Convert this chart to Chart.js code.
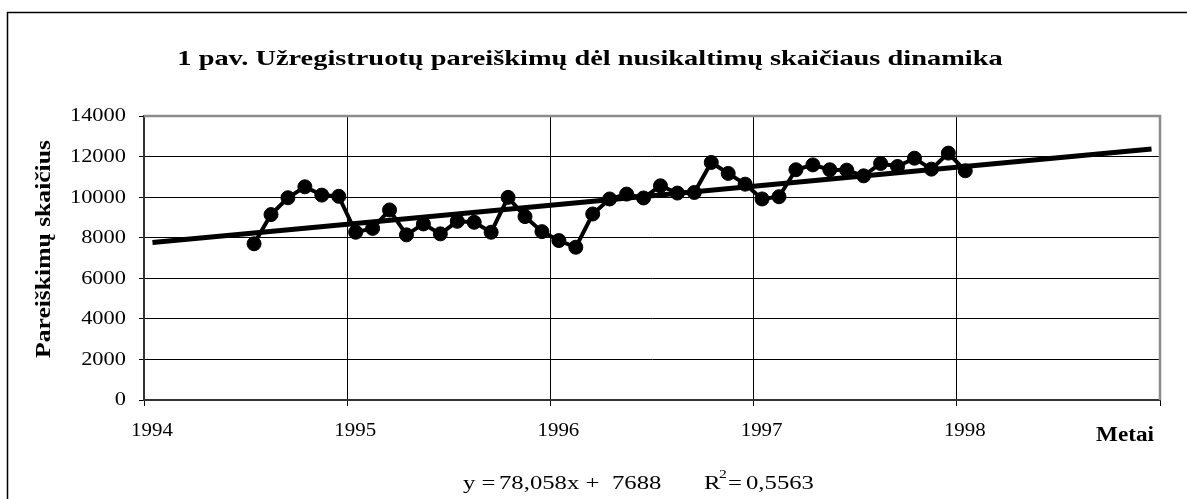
<!DOCTYPE html>
<html>
<head>
<meta charset="utf-8">
<script src="https://cdn.jsdelivr.net/npm/chart.js@4/dist/chart.umd.min.js"></script>
<style>
    html, body { margin: 0; padding: 0; background: #fff; }
    canvas { display: block; }
</style>
</head>
<body>
<canvas id="chart" width="1187" height="499"></canvas>
<script>
// Duomenys: mėnesiniai pareiškimai nuo 1994 m. liepos iki 1998 m. sausio
const firstMonth = 7; // 1994 m. liepa (1 = 1994 m. sausis)
const reports = [
    7700, 9140, 9970, 10510, 10100, 10040,
    8270, 8460, 9370, 8140, 8680, 8190, 8810, 8760, 8270, 9990, 9040, 8300,
    7860, 7530, 9170, 9910, 10150, 9960, 10560, 10200, 10230, 11710, 11170, 10640,
    9910, 10020, 11350, 11590, 11350, 11330, 11050, 11660, 11510, 11920, 11380, 12170,
    11300
];
const yearLabels = ['1994', '1995', '1996', '1997', '1998'];
const yearTicks = [0.5, 12.5, 24.5, 36.5, 48.5, 60.5];
const yTicks = [0, 2000, 4000, 6000, 8000, 10000, 12000, 14000];

// Tiesinis trendas (iš diagramos lygties)
const trendSlope = 78.058;
const trendIntercept = 7688;
const trendRange = [1, 60];

const seriesPoints = reports.map((v, i) => ({ x: firstMonth + i, y: v }));
const trendPoints = trendRange.map(x => ({ x: x, y: trendIntercept + trendSlope * x }));

const SERIF = '"Liberation Serif", "Times New Roman", serif';

// Tekstas šiek tiek ištemptas horizontaliai, kaip originale
function stretchedText(ctx, text, x, y, font, sx, align) {
    ctx.save();
    ctx.font = font;
    ctx.fillStyle = '#000';
    ctx.textBaseline = 'middle';
    const w = ctx.measureText(text).width * sx;
    let left = x;
    if (align === 'center') left = x - w / 2;
    if (align === 'right') left = x - w;
    ctx.translate(left, y);
    ctx.scale(sx, 1);
    ctx.textAlign = 'left';
    ctx.fillText(text, 0, 0);
    ctx.restore();
    return w;
}

const decorPlugin = {
    id: 'decor',
    beforeDraw(chart) {
        const ctx = chart.ctx;
        ctx.save();
        ctx.fillStyle = '#fff';
        ctx.fillRect(0, 0, chart.width, chart.height);
        // išorinis rėmelis
        ctx.strokeStyle = '#000';
        ctx.lineWidth = 1.5;
        ctx.beginPath();
        ctx.moveTo(7.5, chart.height + 2);
        ctx.lineTo(7.5, 12.5);
        ctx.lineTo(chart.width + 2, 12.5);
        ctx.stroke();
        ctx.restore();
    },
    beforeDatasetsDraw(chart) {
        const ctx = chart.ctx;
        const a = chart.chartArea;
        ctx.save();
        ctx.strokeStyle = '#8c8c8c';
        ctx.lineWidth = 2.5;
        ctx.beginPath();
        ctx.moveTo(a.left, a.top);
        ctx.lineTo(a.right, a.top);
        ctx.lineTo(a.right, a.bottom);
        ctx.stroke();
        ctx.restore();
    },
    afterDraw(chart) {
        const ctx = chart.ctx;
        const xs = chart.scales.x;
        const ys = chart.scales.y;

        // ašių žymės
        yTicks.forEach(v => {
            stretchedText(ctx, String(v), 126, ys.getPixelForValue(v) + 0.5, '19px ' + SERIF, 1.18, 'right');
        });
        yearLabels.forEach((lbl, i) => {
            stretchedText(ctx, lbl, xs.getPixelForValue(yearTicks[i]) + 8, 431, '19px ' + SERIF, 1.1, 'center');
        });

        // pavadinimas
        stretchedText(ctx, '1 pav. Užregistruotų pareiškimų dėl nusikaltimų skaičiaus dinamika',
            590, 59, 'bold 22px ' + SERIF, 1.29, 'center');

        // y ašies pavadinimas
        ctx.save();
        ctx.translate(45, 249);
        ctx.rotate(-Math.PI / 2);
        stretchedText(ctx, 'Pareiškimų skaičius', 0, 0, 'bold 20px ' + SERIF, 1.28, 'center');
        ctx.restore();

        // x ašies pavadinimas
        stretchedText(ctx, 'Metai', 1125, 436, 'bold 20px ' + SERIF, 1.16, 'center');

        // trendo lygtis
        const f = '19px ' + SERIF;
        const ey = 484;
        stretchedText(ctx, 'y =', 463, ey, f, 1.3, 'left');
        stretchedText(ctx, '78,058x +', 499, ey, f, 1.3, 'left');
        stretchedText(ctx, '7688', 612, ey, f, 1.3, 'left');
        stretchedText(ctx, 'R', 704, ey, f, 1.3, 'left');
        stretchedText(ctx, '2', 719, ey - 9, '12px ' + SERIF, 1.3, 'left');
        stretchedText(ctx, '=', 728, ey, f, 1.3, 'left');
        stretchedText(ctx, '0,5563', 746, ey, f, 1.3, 'left');
    }
};

new Chart(document.getElementById('chart'), {
    type: 'line',
    data: {
        datasets: [{
            label: 'Trendas',
            data: trendPoints,
            borderColor: '#000',
            borderWidth: 5,
            pointRadius: 0,
            fill: false,
            order: 0
        }, {
            label: 'Pareiškimai',
            data: seriesPoints,
            borderColor: '#000',
            borderWidth: 4,
            pointRadius: 7,
            pointBorderWidth: 1,
            pointBackgroundColor: '#000',
            pointBorderColor: '#000',
            tension: 0,
            fill: false,
            order: 1
        }]
    },
    options: {
        responsive: false,
        animation: false,
        layout: {
            padding: { top: 116, right: 27, left: 0, bottom: 0 }
        },
        plugins: {
            legend: { display: false },
            title: { display: false },
            tooltip: { enabled: false }
        },
        scales: {
            x: {
                type: 'linear',
                min: 0.5,
                max: 60.5,
                afterBuildTicks: scale => {
                    scale.ticks = yearTicks.map(v => ({ value: v }));
                },
                afterFit: scale => { scale.height = 99; },
                grid: {
                    color: '#000',
                    lineWidth: 1,
                    drawTicks: true,
                    tickLength: 6
                },
                border: { color: '#333', width: 2 },
                ticks: { display: false }
            },
            y: {
                min: 0,
                max: 14000,
                afterBuildTicks: scale => {
                    scale.ticks = yTicks.map(v => ({ value: v }));
                },
                afterFit: scale => { scale.width = 144; },
                grid: {
                    color: '#000',
                    lineWidth: 1,
                    drawTicks: true,
                    tickLength: 5
                },
                border: { color: '#333', width: 2 },
                ticks: { display: false }
            }
        }
    },
    plugins: [decorPlugin]
});
</script>
</body>
</html>
